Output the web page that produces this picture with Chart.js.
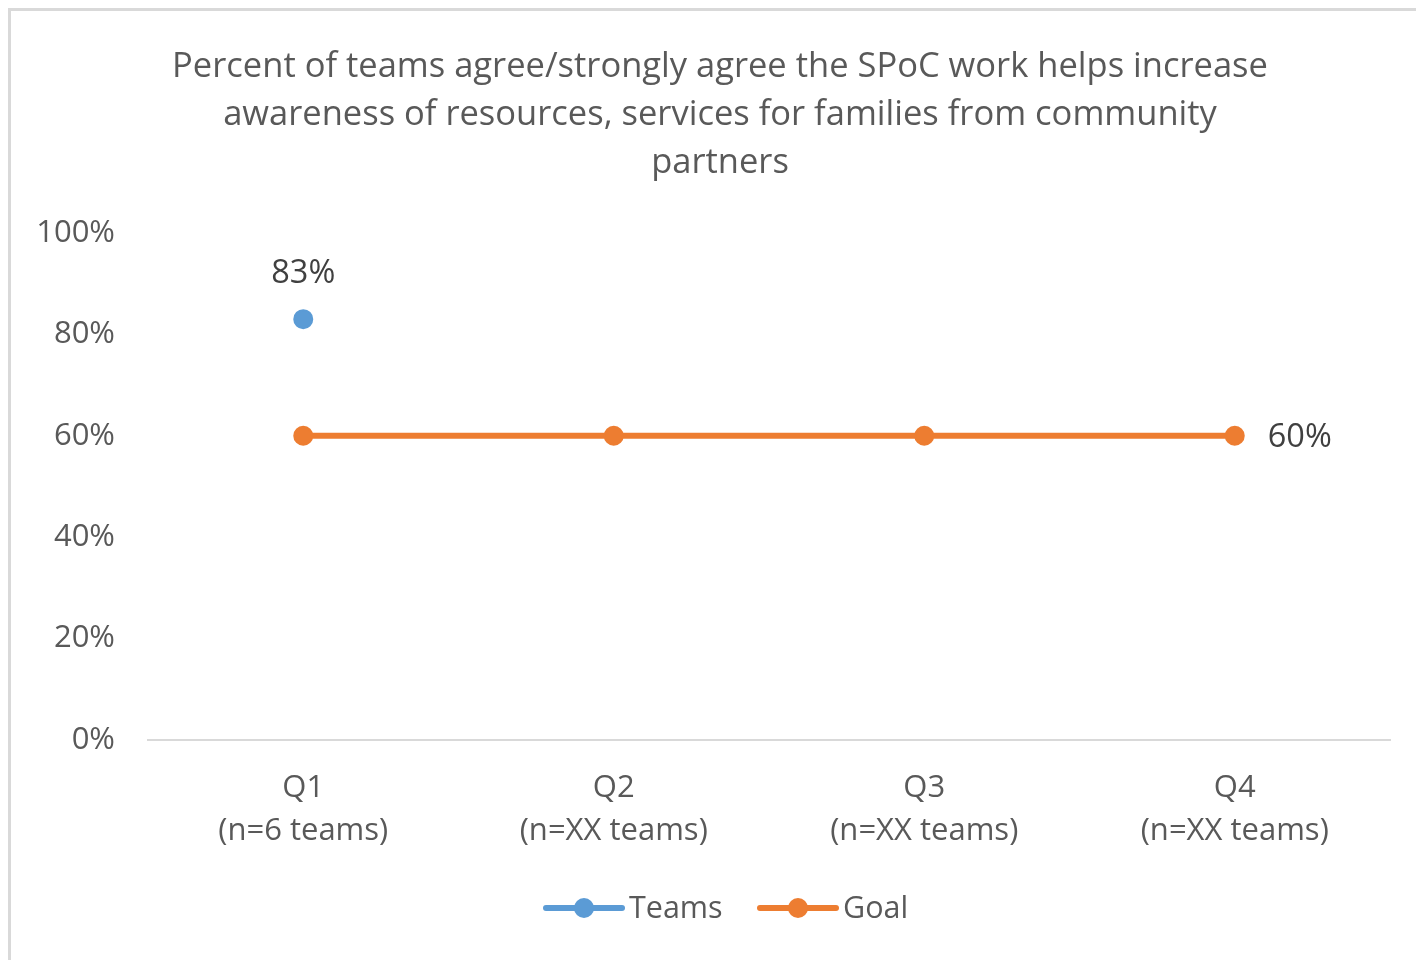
<!DOCTYPE html>
<html><head><meta charset="utf-8">
<script src="https://cdn.jsdelivr.net/npm/chart.js@4.4.1/dist/chart.umd.min.js"></script>
<style>html,body{margin:0;padding:0;background:#fff;overflow:hidden}#wrap{width:1416px;height:960px;position:relative}</style>
</head><body><div id="wrap"><canvas id="c" width="1416" height="960"></canvas></div>
<script>
const quarterNames = ['Q1', 'Q2', 'Q3', 'Q4'];
const teamCounts = ['(n=6 teams)', '(n=XX teams)', '(n=XX teams)', '(n=XX teams)'];
const teamsValues = [83, null, null, null];
const goalValues = [60, 60, 60, 60];
const yTicks = [0, 20, 40, 60, 80, 100];
const titleLines = ['Percent of teams agree/strongly agree the SPoC work helps increase', 'awareness of resources, services for families from community', 'partners'];
const seriesNames = ['Teams', 'Goal'];

const FONT = '"Open Sans", sans-serif';
const BLUE = '#5B9BD5', ORANGE = '#ED7D31', GREY = '#595959', DARK = '#404040';
const categories = quarterNames.map((q, i) => [q, teamCounts[i]]);

const decor = {
  id: 'decor',
  beforeDraw(chart) {
    const ctx = chart.ctx;
    ctx.save();
    ctx.fillStyle = '#fff';
    ctx.fillRect(0, 0, chart.width, chart.height);
    ctx.strokeStyle = '#d9d9d9';
    ctx.lineWidth = 3;
    ctx.strokeRect(9.5, 9.5, 1440, 1000);
    ctx.restore();
  },
  afterDraw(chart) {
    const ctx = chart.ctx;
    ctx.save();
    // title
    ctx.fillStyle = GREY;
    ctx.font = '34.5px ' + FONT;
    ctx.textAlign = 'center';
    ctx.textBaseline = 'middle';
    const ty = [67, 115, 163];
    titleLines.forEach((t, i) => ctx.fillText(t, 720, ty[i]));
    // data labels
    ctx.fillStyle = DARK;
    ctx.font = '32.5px ' + FONT;
    const m0 = chart.getDatasetMeta(0);
    teamsValues.forEach((v, i) => {
      if (v == null) return;
      const p = m0.data[i];
      ctx.textAlign = 'center';
      ctx.fillText(v + '%', p.x, p.y - 45);
    });
    const m1 = chart.getDatasetMeta(1);
    const last = goalValues.length - 1;
    const pl = m1.data[last];
    ctx.textAlign = 'left';
    ctx.fillText(goalValues[last] + '%', pl.x + 33, pl.y + 2);
    // legend
    const ly = 908;
    const items = [{x: 543, c: BLUE, t: seriesNames[0]}, {x: 757, c: ORANGE, t: seriesNames[1]}];
    ctx.font = '30.5px ' + FONT;
    items.forEach(it => {
      ctx.strokeStyle = it.c;
      ctx.lineWidth = 6;
      ctx.lineCap = 'round';
      ctx.beginPath();
      ctx.moveTo(it.x + 3, ly);
      ctx.lineTo(it.x + 79, ly);
      ctx.stroke();
      ctx.fillStyle = it.c;
      ctx.beginPath();
      ctx.arc(it.x + 41, ly, 10, 0, Math.PI * 2);
      ctx.fill();
      ctx.fillStyle = GREY;
      ctx.textAlign = 'left';
      ctx.fillText(it.t, it.x + 86, ly + 1);
    });
    ctx.restore();
  }
};

new Chart(document.getElementById('c'), {
  type: 'line',
  data: {
    labels: categories,
    datasets: [
      {label: seriesNames[0], data: teamsValues, borderColor: BLUE, backgroundColor: BLUE, borderWidth: 6,
       pointRadius: 9, pointBorderWidth: 2, pointBackgroundColor: BLUE, pointBorderColor: BLUE, spanGaps: false},
      {label: seriesNames[1], data: goalValues, borderColor: ORANGE, backgroundColor: ORANGE, borderWidth: 6,
       pointRadius: 9, pointBorderWidth: 2, pointBackgroundColor: ORANGE, pointBorderColor: ORANGE}
    ]
  },
  options: {
    responsive: false,
    animation: false,
    devicePixelRatio: 1,
    layout: {padding: {top: 233, right: 26, bottom: 0, left: 0}},
    plugins: {legend: {display: false}, title: {display: false}, tooltip: {enabled: false}},
    scales: {
      x: {
        offset: true,
        grid: {display: false, drawTicks: false},
        border: {display: true, color: '#d9d9d9', width: 2},
        ticks: {color: GREY, font: {family: FONT, size: 31, lineHeight: 1.4}, padding: 26, maxRotation: 0, autoSkip: false},
        afterFit(s) { s.height = 220; }
      },
      y: {
        min: 0, max: 100,
        afterBuildTicks(s) { s.ticks = yTicks.map(v => ({value: v})); },
        grid: {display: false, drawTicks: false},
        border: {display: false},
        ticks: {color: GREY, font: {family: FONT, size: 31}, padding: 33, callback: v => v + '%'},
        afterFit(s) { s.width = 148; }
      }
    }
  },
  plugins: [decor]
});
</script></body></html>
